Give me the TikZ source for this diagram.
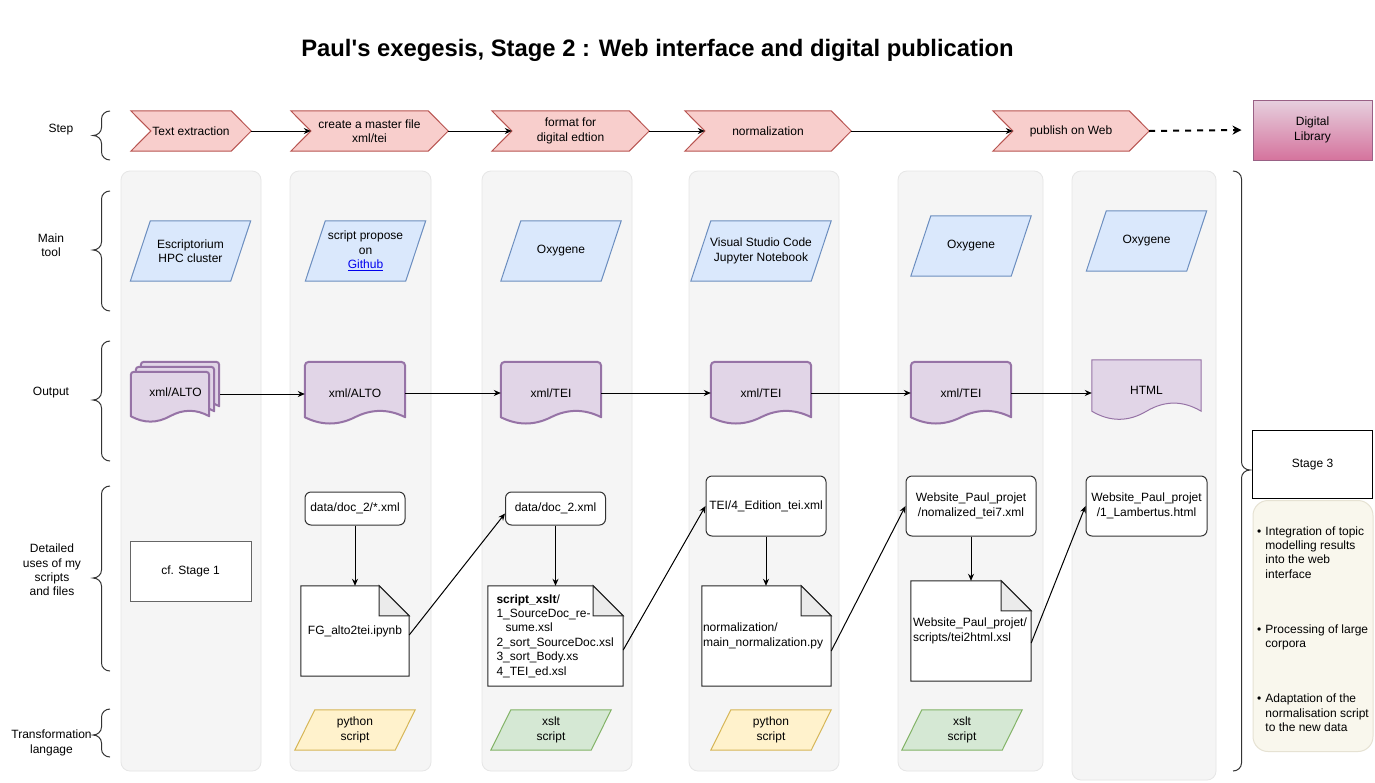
\documentclass[tikz,border=0pt]{standalone}
\usepackage{fontspec}
\setmainfont{Liberation Sans}
\usetikzlibrary{arrows.meta,calc}
\definecolor{stepfill}{HTML}{F8CECC}
\definecolor{stepdraw}{HTML}{B85450}
\definecolor{toolfill}{HTML}{DAE8FC}
\definecolor{tooldraw}{HTML}{6C8EBF}
\definecolor{docfill}{HTML}{E1D5E7}
\definecolor{docdraw}{HTML}{9673A6}
\definecolor{pyfill}{HTML}{FFF2CC}
\definecolor{pydraw}{HTML}{D6B656}
\definecolor{xsfill}{HTML}{D5E8D4}
\definecolor{xsdraw}{HTML}{82B366}
\definecolor{colfill}{HTML}{F5F5F5}
\definecolor{coldraw}{HTML}{E6E6E6}
\definecolor{sthreefill}{HTML}{F9F7ED}
\definecolor{sthreedraw}{HTML}{E6E2D3}
\definecolor{dltop}{HTML}{E6D0DE}
\definecolor{dlbot}{HTML}{D5739D}
\definecolor{dldraw}{HTML}{996185}
\definecolor{linkblue}{HTML}{0000EE}
\definecolor{notefold}{HTML}{EBEBEB}

\pgfdeclarelayer{cols}
\pgfdeclarelayer{shp}
\pgfsetlayers{cols,shp,main}

\newcommand\stepshape[2]{\path[#2] let \p1=(#1.north west), \p2=(#1.south east), \p3=(#1.east), \p4=(#1.west) in
  (\x1,\y1) -- (\x2-20pt,\y1) -- (\x3,\y3) -- (\x2-20pt,\y2) -- (\x1,\y2) -- (\x4+20pt,\y4) -- cycle;}
\newcommand\parashape[2]{\path[#2] let \p1=(#1.north west), \p2=(#1.south east) in
  (\x1+20pt,\y1) -- (\x2,\y1) -- (\x2-20pt,\y2) -- (\x1,\y2) -- cycle;}
\newcommand\noteshape[2]{\path[#2] let \p1=(#1.north west), \p2=(#1.south east) in
  (\x1,\y1) -- (\x2-30pt,\y1) -- (\x2,\y1-30pt) -- (\x2,\y2) -- (\x1,\y2) -- cycle;
  \path[#2,fill=notefold] let \p1=(#1.north west), \p2=(#1.south east) in
  (\x2-30pt,\y1) -- (\x2-30pt,\y1-30pt) -- (\x2,\y1-30pt) -- cycle;}
\newcommand\docshape[4]{\path[#4] let \p1=(#1.north west), \p2=(#1.south east), \n1={\x2-\x1} in
  (\x1,\y2+#2pt/2) -- (\x1,\y1-#3) arc[start angle=180,end angle=90,radius=#3]
  -- (\x2-#3,\y1) arc[start angle=90,end angle=0,radius=#3] -- (\x2,\y2+#2pt/2)
  .. controls (\x2-\n1/6,\y2+#2pt*1.1) and (\x1+\n1*2/3,\y2+#2pt*1.1) .. (\x1+\n1/2,\y2+#2pt/2)
  .. controls (\x1+\n1/3,\y2-#2pt*0.1) and (\x1+\n1/6,\y2-#2pt*0.1) .. (\x1,\y2+#2pt/2) -- cycle;}
\newcommand\lbr[3]{\draw[bracest] (110,#1) to[out=180,in=90] (101.5,{#1+8}) -- (101.5,{#2-8})
  to[out=-90,in=0] (93,#2) to[out=0,in=90] (101.5,{#2+8}) -- (101.5,{#3-8}) to[out=-90,in=180] (110,#3);}

\begin{document}
\begin{tikzpicture}[x=1pt,y=-1pt,
  every node/.style={font=\fontsize{12}{14.4}\selectfont, align=center, inner sep=0pt},
  box/.style 2 args={minimum width=#1pt, minimum height=#2pt},
  stepst/.style={fill=stepfill, draw=stepdraw, line width=1pt},
  toolst/.style={fill=toolfill, draw=tooldraw, line width=1pt},
  pyst/.style={fill=pyfill, draw=pydraw, line width=1pt},
  xsst/.style={fill=xsfill, draw=xsdraw, line width=1pt},
  docst/.style={fill=docfill, draw=docdraw, line width=2pt, line join=round},
  docthin/.style={fill=docfill, draw=docdraw, line width=1pt},
  notest/.style={fill=white, draw=black!85, line width=1pt},
  rbox/.style={fill=white, draw=black!80, line width=1pt, rounded corners=6pt},
  bracest/.style={draw=black!80, line width=1pt},
  colst/.style={fill=colfill, draw=coldraw, line width=0.8pt, rounded corners=9pt},
  arr/.style={draw=black, line width=1pt, -{Stealth[length=7pt,width=6pt]}},
  dasharr/.style={draw=black, line width=2pt, dash pattern=on 6pt off 6pt, -{Stealth[length=9pt,width=9pt]}}]

\useasboundingbox (0,0) rectangle (1375,782);

\begin{pgfonlayer}{cols}
  \fill[white] (0,0) rectangle (1375,782);
  \foreach \a/\b/\c in {121/261/771, 290/431/771, 482/632/771, 689/839/771, 898/1043/771, 1072/1216/780}
    \path[colst] (\a,171) rectangle (\b,\c);
\end{pgfonlayer}

% title
\node[font=\bfseries\fontsize{23.8}{28}\selectfont] (title) at (657.5,50) {Paul\textquotesingle s exegesis, Stage 2 : Web interface and digital publication};

% row labels
\node (lstep) at (61,130) {Step};
\node (lmain) at (51,245) {Main\\tool};
\node (lout) at (51,393) {Output};
\node (ldet) at (52,570) {Detailed\\uses of my\\scripts\\and files};
\node (ltr) at (51.5,743) {Transformation\\langage};
\lbr{111}{135.5}{160}
\lbr{191}{250}{311}
\lbr{341}{400}{461}
\lbr{486}{578}{671}
\lbr{709}{735}{757}
\draw[bracest] (1233,171) to[out=0,in=90] (1241.5,179) -- (1241.5,462) to[out=-90,in=180] (1250,470)
  to[out=180,in=90] (1241.5,478) -- (1241.5,763) to[out=-90,in=0] (1233,771);

% steps
\node[box={120}{40}] (s1) at (191,131) {Text extraction};
\node[box={157}{40}] (s2) at (369.5,131) {create a master file\\xml/tei};
\node[box={157}{40}] (s3) at (570.5,131) {format for\\digital edtion};
\node[box={166}{40}] (s4) at (768,131) {normalization};
\node[box={156}{40}] (s5) at (1071,131) {publish on Web};
\node[box={119}{60}, top color=dltop, bottom color=dlbot, draw=dldraw, line width=1pt] (dl) at (1312.5,130) {Digital\\Library};

% main tools
\node[box={120}{60}] (m1) at (190.5,251) {Escriptorium\\HPC cluster};
\node[box={120}{60}] (m2) at (365.5,251) {script propose\\on\\\textcolor{linkblue}{\underline{Github}}};
\node[box={120}{60}] (m3) at (561,251) {Oxygene};
\node[box={140}{60}] (m4) at (761,251) {Visual Studio Code\\Jupyter Notebook};
\node[box={120}{60}] (m5) at (971,246) {Oxygene};
\node[box={120}{60}] (m6) at (1146.5,241) {Oxygene};

% outputs
\node[box={78}{50}] (o1back) at (180,387) {};
\node[box={78}{50}] (o1mid) at (175,392) {};
\node[box={78}{50}] (o1front) at (170,397) {};
\node[box={89}{60}] (o1) at (175.5,392) {xml/ALTO};
\node[box={100}{62}] (o2) at (355,393) {xml/ALTO};
\node[box={100}{62}] (o3) at (551,393) {xml/TEI};
\node[box={100}{62}] (o4) at (761,393) {xml/TEI};
\node[box={100}{62}] (o5) at (961,393) {xml/TEI};
\node[box={109}{60}] (o6) at (1146.5,390) {HTML};

% details
\node[box={121}{60}, draw=black!60, fill=white, line width=1pt] (cf) at (190.5,571) {cf. Stage 1};
\node[box={100}{33}, rbox] (d2a) at (355,508.5) {data/doc\_2/*.xml};
\node[box={100}{33}, rbox] (d3a) at (555.5,508.5) {data/doc\_2.xml};
\node[box={120}{60}, rbox] (d4a) at (766,506) {TEI/4\_Edition\_tei.xml};
\node[box={130}{60}, rbox] (d5a) at (971,506) {Website\_Paul\_projet\\/nomalized\_tei7.xml};
\node[box={121}{60}, rbox] (d6a) at (1146.5,506) {Website\_Paul\_projet\\/1\_Lambertus.html};
\node[box={108}{90}] (d2b) at (355,631) {FG\_alto2tei.ipynb};
\node[box={135}{100}, text width=118pt, inner xsep=8.5pt, align=left] (d3b) at (555.5,636)
  {\textbf{script\_xslt}/\\1\_SourceDoc\_re-\\\hspace*{9pt}sume.xsl\\2\_sort\_SourceDoc.xsl\\3\_sort\_Body.xs\\4\_TEI\_ed.xsl};
\node[box={129}{100}, text width=127pt, inner xsep=1pt, align=left] (d4b) at (766.5,636)
  {normalization/\\main\_normalization.py};
\node[box={120}{100}, text width=116pt, inner xsep=2pt, align=left] (d5b) at (971,631)
  {Website\_Paul\_projet/\\scripts/tei2html.xsl};

% transformation
\node[box={120}{40}] (t2) at (355,730) {python\\script};
\node[box={120}{40}] (t3) at (551,730) {xslt\\script};
\node[box={120}{40}] (t4) at (771,730) {python\\script};
\node[box={120}{40}] (t5) at (962,730) {xslt\\script};

% stage 3
\node[box={120}{68}, draw=black, fill=white, line width=1pt] (st3) at (1312.5,464.5) {Stage 3};
\node[box={120}{251}, fill=sthreefill, draw=sthreedraw, line width=1pt, rounded corners=15pt] (s3l) at (1313,626)
  {\raisebox{-4.5pt}[\height][\depth]{\begin{tabular}{@{}l@{\hspace{4pt}}l@{}}
  \textbullet & Integration of topic\\ & modelling results\\ & into the web\\ & interface\\[40.6pt]
  \textbullet & Processing of large\\ & corpora\\[40.6pt]
  \textbullet & Adaptation of the\\ & normalisation script\\ & to the new data
  \end{tabular}}};

% shape outlines
\begin{pgfonlayer}{shp}
  \foreach \nd in {s1,s2,s3,s4,s5} {\stepshape{\nd}{stepst}}
  \foreach \nd in {m1,m2,m3,m4,m5,m6} {\parashape{\nd}{toolst}}
  \parashape{t2}{pyst}
  \parashape{t4}{pyst}
  \parashape{t3}{xsst}
  \parashape{t5}{xsst}
  \docshape{o1back}{12}{3pt}{docst}
  \docshape{o1mid}{12}{3pt}{docst}
  \docshape{o1front}{12}{3pt}{docst}
  \foreach \nd in {o2,o3,o4,o5} {\docshape{\nd}{14}{4pt}{docst}}
  \docshape{o6}{18}{0.01pt}{docthin}
  \foreach \nd in {d2b,d3b,d4b,d5b} {\noteshape{\nd}{notest}}
\end{pgfonlayer}

% connectors
\draw[arr] (s1.east) -- ([xshift=20pt]s2.west);
\draw[arr] (s2.east) -- ([xshift=20pt]s3.west);
\draw[arr] (s3.east) -- ([xshift=20pt]s4.west);
\draw[arr] (s4.east) -- ([xshift=20pt]s5.west);
\draw[dasharr] (s5.east) -- ([xshift=-11pt]dl.west);

\draw[arr] ([yshift=-2pt]o1.east) -- ([yshift=-2pt]o1.east -| o2.west);
\draw[arr] (o2.east) -- (o3.west);
\draw[arr] (o3.east) -- (o4.west);
\draw[arr] (o4.east) -- (o5.west);
\draw[arr] (o5.east) -- (o5.east -| o6.west);

\draw[arr] (d2a.south) -- (d2b.north);
\draw[arr] (d3a.south) -- (d3a.south |- d3b.north);
\draw[arr] (d4a.south) -- (d4a.south |- d4b.north);
\draw[arr] (d5a.south) -- (d5a.south |- d5b.north);
\draw[arr] ([yshift=-4pt]d2b.east) -- ([yshift=-5pt]d3a.west);
\draw[arr] ([yshift=-14pt]d3b.east) -- (d4a.west);
\draw[arr] ([yshift=-15pt]d4b.east) -- (d5a.west);
\draw[arr] ([yshift=-12pt]d5b.east) -- (d6a.west);
\end{tikzpicture}
\end{document}
